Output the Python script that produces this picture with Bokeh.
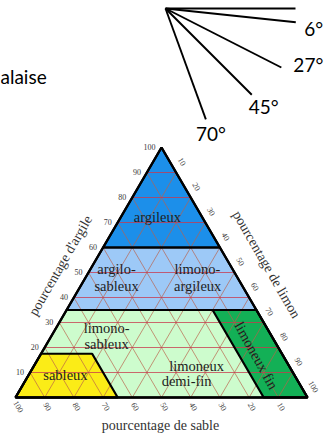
import math
from bokeh.plotting import figure
from bokeh.models import Range1d
from bokeh.core.properties import value
from bokeh.embed import file_html
from bokeh.resources import INLINE

# ---------------- data ----------------
ray_angles = [0, 6, 27, 45, 70]               # degrees below horizontal
ray_labels = ["", "6°", "27°", "45°", "70°"]
side_word = "alaise"

tick_values = [10, 20, 30, 40, 50, 60, 70, 80, 90, 100]
clay_tick_labels = [str(v) for v in tick_values]
silt_tick_labels = [str(v) for v in tick_values]
sand_tick_labels = [str(v) for v in tick_values]

# texture classes: vertices as (sand, clay) percentages (silt = 100 - sand - clay)
class_names = ["argilo_limono_band", "limono_band", "argileux", "sableux", "limoneux_fin"]
class_vertices = [
    [(40, 60), (65, 35), (0, 35), (0, 60)],
    [(65, 35), (100, 0), (0, 0), (0, 35)],
    [(0, 100), (40, 60), (0, 60)],
    [(100, 0), (65, 0), (65, 17.5), (82.5, 17.5)],
    [(15, 0), (0, 0), (0, 35), (15, 35)],
]
class_colors = ["#9dc9f7", "#cdfccd", "#1c8fea", "#fbec17", "#13b056"]

region_text = ["argileux", "argilo-", "sableux", "limono-", "argileux",
               "limono-", "sableux", "limoneux", "demi-fin", "sableux"]
region_sand_clay = [(15.2, 72.4), (39.6, 51.6), (43, 44.8), (11.9, 51.6), (15.2, 44.8),
                    (54.8, 28), (58, 21.6), (31.6, 12.8), (38, 6.8), (78.3, 9.2)]
fin_text = "limoneux fin"
fin_sand_clay = (9.1, 16.8)

# ---------------- layout ----------------
W, H = 334, 440
X0, Y0 = 15.0, 397.0      # bottom-left corner of triangle (100 % sand)
TW, TH = 292.0, 250.0     # base width, height
RAY_O = (165.0, 8.0)
ray_len = [130, 131, 130, 122, 118]
ray_lab_off = [(0, 0), (18, 6), (27, -3), (12, 12), (5, 14)]

def tern(sand, clay):
    silt = 100.0 - sand - clay
    x = X0 + TW * (silt + clay / 2.0) / 100.0
    y = Y0 - TH * clay / 100.0
    return x, y

p = figure(width=W, height=H, output_backend="svg", toolbar_location=None,
           x_range=Range1d(0, W), y_range=Range1d(H, 0),
           min_border=0, outline_line_color=None)
p.axis.visible = False
p.grid.visible = False
p.background_fill_color = "white"
p.border_fill_color = "white"

# ---- class fills ----
xs, ys = [], []
for verts in class_vertices:
    pts = [tern(s, c) for s, c in verts]
    xs.append([q[0] for q in pts]); ys.append([q[1] for q in pts])
p.patches(xs, ys, fill_color=class_colors, line_color=None)

# ---- 10 % grid ----
hx, hy, dx_, dy_ = [], [], [], []
for k in tick_values[:-1]:
    a, b = tern(100 - k, k), tern(0, k)
    hx.append([a[0], b[0]]); hy.append([a[1], b[1]])
    a, b = tern(k, 100 - k), tern(k, 0)
    dx_.append([a[0], b[0]]); dy_.append([a[1], b[1]])
    a, b = tern(0, 100 - k), tern(100 - k, 0)
    dx_.append([a[0], b[0]]); dy_.append([a[1], b[1]])
p.multi_line(dx_, dy_, line_color="#b9604a", line_width=0.8, line_alpha=0.85)
p.multi_line(hx, hy, line_color="#c8384e", line_width=0.9, line_alpha=0.85)

# ---- boundaries ----
p.patches(xs, ys, fill_alpha=0, line_color="black", line_width=2.2)
tri = [tern(100, 0), tern(0, 0), tern(0, 100), tern(100, 0)]
p.line([q[0] for q in tri], [q[1] for q in tri], line_color="black", line_width=2.4)

serif = value("Liberation Serif")

# ---- region labels ----
rx = [tern(s, c)[0] for s, c in region_sand_clay]
ry = [tern(s, c)[1] for s, c in region_sand_clay]
p.text(rx, ry, text=region_text, text_font=serif, text_font_size="14.5px",
       text_align="center", text_baseline="middle", text_color="#1e1e1e")
lf = tern(*fin_sand_clay)
p.text([lf[0]], [lf[1]], text=[fin_text], text_font=serif, text_font_size="14.5px",
       angle=-math.radians(61), text_align="center", text_baseline="middle",
       text_color="#1e1e1e")

# ---- ticks ----
cx = [tern(100 - v, v)[0] - 6 for v in tick_values]
cy = [tern(100 - v, v)[1] - 1 for v in tick_values]
p.text(cx, cy, text=clay_tick_labels, text_font=serif, text_font_size="8px",
       text_align="right", text_baseline="middle", text_color="#3a3a3a")
sx = [tern(v, 0)[0] + 3 for v in tick_values]
sy = [tern(v, 0)[1] + 9 for v in tick_values]
p.text(sx, sy, text=sand_tick_labels, text_font=serif, text_font_size="8px",
       angle=-math.radians(60), text_align="center", text_baseline="middle",
       text_color="#3a3a3a")
lx = [tern(0, 100 - v)[0] + 6 for v in tick_values]
ly = [tern(0, 100 - v)[1] - 11 for v in tick_values]
p.text(lx, ly, text=silt_tick_labels, text_font=serif, text_font_size="8px",
       angle=-math.radians(60), text_align="center", text_baseline="middle",
       text_color="#3a3a3a")

# ---- axis titles ----
p.text([60], [265], text=["pourcentage d'argile"], text_font=serif, text_font_size="14px",
       angle=math.radians(60), text_align="center", text_baseline="middle", text_color="#333333")
p.text([266], [264], text=["pourcentage de limon"], text_font=serif, text_font_size="14px",
       angle=-math.radians(60), text_align="center", text_baseline="middle", text_color="#333333")
p.text([160], [425], text=["pourcentage de sable"], text_font=serif, text_font_size="14px",
       text_align="center", text_baseline="middle", text_color="#333333")

# ---- slope rays ----
ox, oy = RAY_O
ex = [ox + L * math.cos(math.radians(a)) for a, L in zip(ray_angles, ray_len)]
ey = [oy + L * math.sin(math.radians(a)) for a, L in zip(ray_angles, ray_len)]
p.segment(x0=[ox] * len(ex), y0=[oy] * len(ey), x1=ex, y1=ey,
          line_color="black", line_width=1.9)
p.text([x + o[0] for x, o in zip(ex, ray_lab_off)], [y + o[1] for y, o in zip(ey, ray_lab_off)],
       text=ray_labels, text_font=value("Lato"), text_font_size="19px",
       text_align="center", text_baseline="middle", text_color="black")

p.text([0], [76], text=[side_word], text_font=value("Lato"), text_font_size="19px",
       text_align="left", text_baseline="middle", text_color="black")

open("out.html", "w").write(file_html(p, INLINE))
